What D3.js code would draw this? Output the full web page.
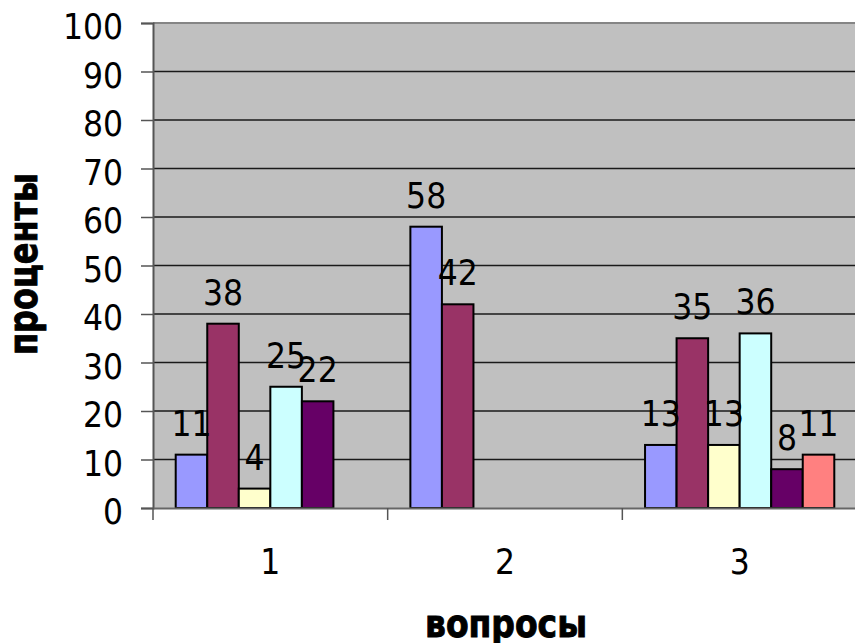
<!DOCTYPE html>
<html>
<head>
<meta charset="utf-8">
<script src="https://cdn.jsdelivr.net/npm/d3@7"></script>
<style>
  body { margin: 0; background: #fff; }
  svg text { font-family: "DejaVu Sans Condensed", "DejaVu Sans", sans-serif; font-stretch: condensed; }
</style>
</head>
<body>
<div id="chart"></div>
<script>
var questions = ["1", "2", "3"];
var seriesNames = ["s1", "s2", "s3", "s4", "s5", "s6"];
// percent per question, null where the answer is not present
var s1 = [11, 58, 13];
var s2 = [38, 42, 35];
var s3 = [4, null, 13];
var s4 = [25, null, 36];
var s5 = [22, null, 8];
var s6 = [null, null, 11];
var yTicks = [0, 10, 20, 30, 40, 50, 60, 70, 80, 90, 100];
var colors = ["#9999ff", "#993366", "#ffffcc", "#ccffff", "#660066", "#ff8080"];

var allSeries = [s1, s2, s3, s4, s5, s6];

var width = 855, height = 643;
var plotLeft = 153, plotRight = 857, plotTop = 23, plotBottom = 508;

var svg = d3.select('#chart').append('svg').attr('width', width).attr('height', height);

var x0 = d3.scaleBand().domain(questions).range([plotLeft, plotRight]).padding(0);
var x1 = d3.scaleBand().domain(seriesNames).range([0, x0.bandwidth()]).paddingInner(0).paddingOuter(0.72);
var y = d3.scaleLinear().domain([0, 100]).range([plotBottom, plotTop]);

// plot area
svg.append('rect')
   .attr('x', plotLeft).attr('y', plotTop)
   .attr('width', plotRight - plotLeft).attr('height', plotBottom - plotTop)
   .attr('fill', '#c0c0c0');

// gridlines
svg.selectAll('line.grid')
   .data(yTicks.slice(1, -1))
   .enter()
   .append('line')
   .attr('class', 'grid')
   .attr('x1', plotLeft).attr('x2', plotRight)
   .attr('y1', function (d) { return y(d); })
   .attr('y2', function (d) { return y(d); })
   .attr('stroke', '#1a1a1a').attr('stroke-width', 1.3);

// top border
svg.append('line')
   .attr('x1', plotLeft).attr('x2', plotRight)
   .attr('y1', plotTop).attr('y2', plotTop)
   .attr('stroke', '#858585').attr('stroke-width', 2);

// bars
var rows = [];
questions.forEach(function (q, i) {
  allSeries.forEach(function (s, j) {
    if (s[i] !== null) rows.push({ q: q, name: seriesNames[j], v: s[i], c: colors[j] });
  });
});

svg.selectAll('rect.bar')
   .data(rows)
   .enter()
   .append('rect')
   .attr('class', 'bar')
   .attr('x', function (d) { return x0(d.q) + x1(d.name); })
   .attr('y', function (d) { return y(d.v); })
   .attr('width', x1.bandwidth())
   .attr('height', function (d) { return plotBottom - y(d.v); })
   .attr('fill', function (d) { return d.c; })
   .attr('stroke', '#000').attr('stroke-width', 2);

// value labels
svg.selectAll('text.val')
   .data(rows)
   .enter()
   .append('text')
   .attr('class', 'val')
   .attr('x', function (d) { return x0(d.q) + x1(d.name) + x1.bandwidth() / 2; })
   .attr('y', function (d) { return y(d.v) - 19; })
   .attr('text-anchor', 'middle')
   .attr('font-size', 35)
   .attr('fill', '#000')
   .text(function (d) { return d.v; });

// y axis
var yAxis = d3.axisLeft(y).tickValues(yTicks).tickSize(12).tickPadding(18);
var gy = svg.append('g').attr('transform', 'translate(' + plotLeft + ',0)').call(yAxis);
gy.select('.domain').attr('stroke', '#555').attr('stroke-width', 2);
gy.selectAll('.tick line').attr('stroke', '#555').attr('stroke-width', 1.5);
gy.selectAll('.tick text').attr('font-size', 35).attr('fill', '#000').attr('dy', '0.45em')
  .style('font-family', '"DejaVu Sans Condensed", "DejaVu Sans", sans-serif');

// x axis
var xAxis = d3.axisBottom(x0).tickSize(0).tickPadding(0);
var gx = svg.append('g').attr('transform', 'translate(0,' + plotBottom + ')').call(xAxis);
gx.select('.domain').attr('stroke', '#666').attr('stroke-width', 2);
gx.selectAll('.tick text').attr('font-size', 35).attr('fill', '#000').attr('dy', 0).attr('y', 66)
  .style('font-family', '"DejaVu Sans Condensed", "DejaVu Sans", sans-serif');
// category separators
svg.selectAll('line.sep')
   .data(questions)
   .enter()
   .append('line')
   .attr('class', 'sep')
   .attr('x1', function (d) { return x0(d); })
   .attr('x2', function (d) { return x0(d); })
   .attr('y1', plotBottom).attr('y2', plotBottom + 12)
   .attr('stroke', '#555').attr('stroke-width', 1.5);

// titles (heavy, slightly condensed)
svg.append('text')
   .attr('transform', 'translate(37,264) rotate(-90)')
   .attr('text-anchor', 'middle')
   .attr('font-size', 41).attr('font-weight', 'bold')
   .attr('stroke', '#000').attr('stroke-width', 0.9)
   .attr('textLength', 182).attr('lengthAdjust', 'spacingAndGlyphs')
   .text('проценты');

svg.append('text')
   .attr('x', 506).attr('y', 637)
   .attr('text-anchor', 'middle')
   .attr('font-size', 39).attr('font-weight', 'bold')
   .attr('stroke', '#000').attr('stroke-width', 0.9)
   .attr('textLength', 162).attr('lengthAdjust', 'spacingAndGlyphs')
   .text('вопросы');
</script>
</body>
</html>
